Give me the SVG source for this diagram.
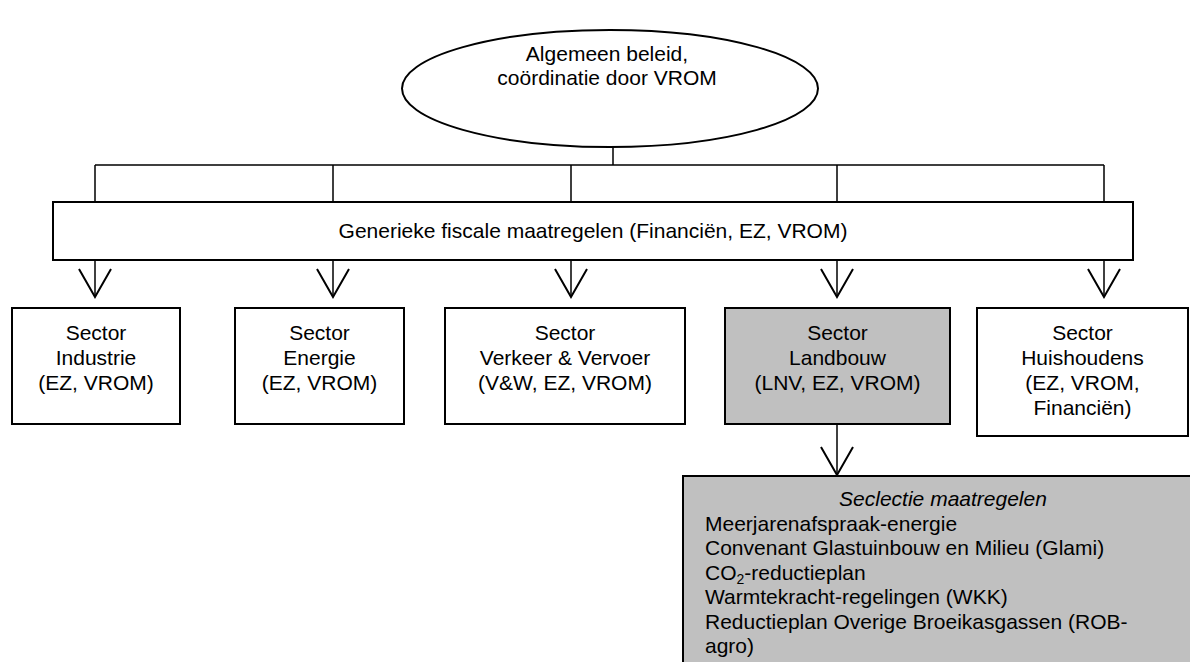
<svg xmlns="http://www.w3.org/2000/svg" width="1190" height="662" viewBox="0 0 1190 662">
<style>
text{font-family:"Liberation Sans",Arial,sans-serif;font-size:21px;fill:#000}
.c{text-anchor:middle}
.box{fill:#fff;stroke:#000;stroke-width:2}
.grey{fill:#c0c0c0;stroke:#000;stroke-width:2}
.ln{fill:none;stroke:#000;stroke-width:1.5}
</style>
<defs>
<marker id="v" markerUnits="userSpaceOnUse" markerWidth="40" markerHeight="40" viewBox="-25 -15 30 30" refX="0" refY="0" orient="auto" overflow="visible">
<path d="M-21,-12 L0,0 L-21,12" fill="none" stroke="#000" stroke-width="1.5"/>
</marker>
</defs>
<rect width="1190" height="662" fill="#fff"/>
<g id="connectors">
<path class="ln" d="M613,147 V165 M95,165 H1104 M95,165 V202 M333,165 V202 M571,165 V202 M837,165 V202 M1104,165 V202"/>
<path class="ln" d="M95,260 V297" marker-end="url(#v)"/>
<path class="ln" d="M333,260 V297" marker-end="url(#v)"/>
<path class="ln" d="M571,260 V297" marker-end="url(#v)"/>
<path class="ln" d="M837,260 V297" marker-end="url(#v)"/>
<path class="ln" d="M1104,260 V297" marker-end="url(#v)"/>
<path class="ln" d="M837,424 V475" marker-end="url(#v)"/>
</g>
<g id="algemeen">
<ellipse class="box" cx="610" cy="88.5" rx="208" ry="58.5"/>
<text class="c" x="607" y="61">Algemeen beleid,</text>
<text class="c" x="607" y="85">coördinatie door VROM</text>
</g>
<g id="generiek">
<rect class="box" x="53" y="202" width="1080" height="58"/>
<text class="c" x="593" y="238">Generieke fiscale maatregelen (Financiën, EZ, VROM)</text>
</g>
<g id="industrie">
<rect class="box" x="12" y="308" width="168" height="116"/>
<text class="c" x="96" y="340">Sector</text>
<text class="c" x="96" y="365">Industrie</text>
<text class="c" x="96" y="390">(EZ, VROM)</text>
</g>
<g id="energie">
<rect class="box" x="235" y="308" width="169" height="116"/>
<text class="c" x="319.5" y="340">Sector</text>
<text class="c" x="319.5" y="365">Energie</text>
<text class="c" x="319.5" y="390">(EZ, VROM)</text>
</g>
<g id="verkeer">
<rect class="box" x="445" y="308" width="240" height="116"/>
<text class="c" x="565" y="340">Sector</text>
<text class="c" x="565" y="365">Verkeer &amp; Vervoer</text>
<text class="c" x="565" y="390">(V&amp;W, EZ, VROM)</text>
</g>
<g id="landbouw">
<rect class="grey" x="725" y="308" width="225" height="116"/>
<text class="c" x="837.5" y="340">Sector</text>
<text class="c" x="837.5" y="365">Landbouw</text>
<text class="c" x="837.5" y="390">(LNV, EZ, VROM)</text>
</g>
<g id="huishoudens">
<rect class="box" x="977" y="308" width="211" height="128"/>
<text class="c" x="1082.5" y="340">Sector</text>
<text class="c" x="1082.5" y="365">Huishoudens</text>
<text class="c" x="1082.5" y="390">(EZ, VROM,</text>
<text class="c" x="1082.5" y="415">Financiën)</text>
</g>
<g id="selectie">
<rect class="grey" x="683" y="476" width="520" height="200"/>
<text class="c" x="943" y="506" font-style="italic">Seclectie maatregelen</text>
<text x="705" y="530.5">Meerjarenafspraak-energie</text>
<text x="705" y="555">Convenant Glastuinbouw en Milieu (Glami)</text>
<text x="705" y="579.5">CO<tspan font-size="14" dy="4">2</tspan><tspan dy="-4">-reductieplan</tspan></text>
<text x="705" y="604">Warmtekracht-regelingen (WKK)</text>
<text x="705" y="628.5">Reductieplan Overige Broeikasgassen (ROB-</text>
<text x="705" y="653">agro)</text>
</g>
</svg>
